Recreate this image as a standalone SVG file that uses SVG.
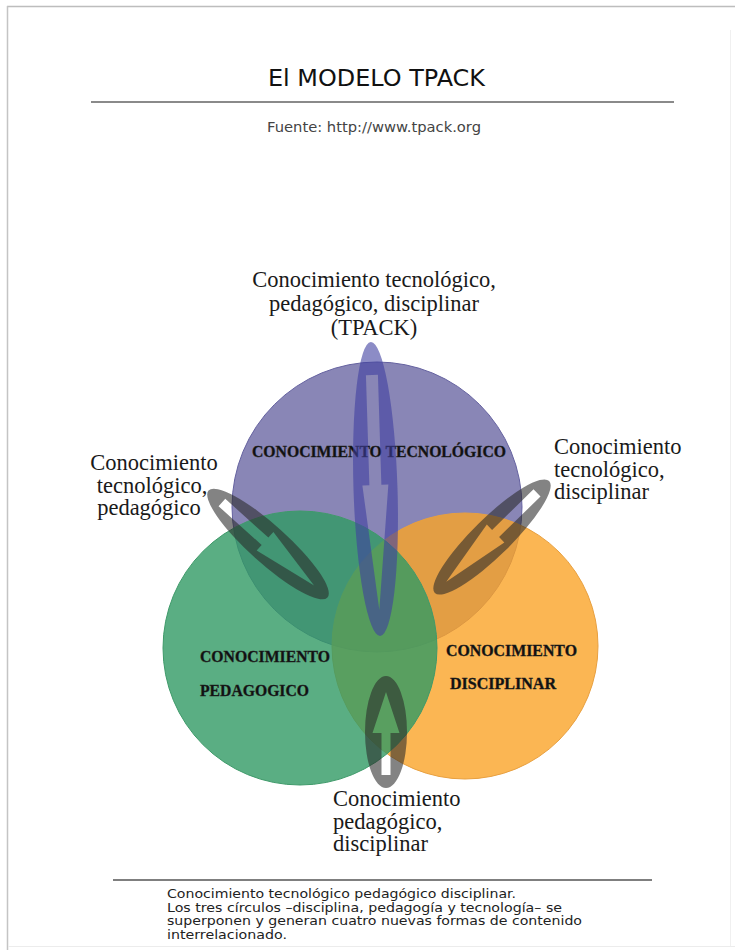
<svg xmlns="http://www.w3.org/2000/svg" width="735" height="950" viewBox="0 0 735 950">
<style>
.sans{font-family:"DejaVu Sans","Liberation Sans",sans-serif}
.serif{font-family:"Liberation Serif","Times New Roman",serif;fill:#1a1a1a}
.lbl{font-size:22.5px}
.cap{font-size:15.7px;font-weight:bold;fill:#111;stroke:#222;stroke-width:0.35}
.gray{fill:#2a2a2a;fill-opacity:0.58;fill-rule:evenodd}
.blue{fill:#4040a0;fill-opacity:0.6;fill-rule:evenodd}
</style>
<rect x="0" y="0" width="735" height="950" fill="#ffffff"/>
<g id="frame" fill="none">
<line x1="7" y1="6.5" x2="735" y2="6.5" stroke="#bdbdbd" stroke-width="1.5"/>
<line x1="7.5" y1="6" x2="7.5" y2="950" stroke="#c4c4c4" stroke-width="1.5"/>
<line x1="8" y1="946.5" x2="735" y2="946.5" stroke="#ececec" stroke-width="1"/>
<line x1="730.5" y1="30" x2="730.5" y2="946" stroke="#f0f0f0" stroke-width="1"/>
</g>
<g id="header">
<text class="sans" x="268" y="86" font-size="23" fill="#111" textLength="217" lengthAdjust="spacingAndGlyphs">El MODELO TPACK</text>
<line x1="91" y1="102" x2="674" y2="102" stroke="#8a8a8a" stroke-width="2"/>
<text class="sans" x="267" y="132" font-size="14.5" fill="#444" textLength="214" lengthAdjust="spacingAndGlyphs">Fuente: http://www.tpack.org</text>
</g>
<g id="circles">
<g id="tecnologico">
<circle cx="377" cy="507" r="145" fill="#6b68a4" fill-opacity="0.8" stroke="#6562a0" stroke-width="1"/>
</g>
<g id="disciplinar">
<circle cx="465" cy="646" r="133" fill="#faa428" fill-opacity="0.8" stroke="#e8a040" stroke-width="1"/>
</g>
<g id="pedagogico">
<circle cx="300" cy="648" r="137" fill="#319a64" fill-opacity="0.8" stroke="#3f9a6a" stroke-width="1"/>
</g>
</g>
<g id="circle-labels">
<text class="serif cap" x="252" y="457" textLength="254" lengthAdjust="spacingAndGlyphs">CONOCIMIENTO TECNOLÓGICO</text>
<text class="serif cap" x="200" y="662" textLength="130" lengthAdjust="spacingAndGlyphs">CONOCIMIENTO</text>
<text class="serif cap" x="200" y="696" textLength="109" lengthAdjust="spacingAndGlyphs">PEDAGOGICO</text>
<text class="serif cap" x="446" y="656" textLength="131" lengthAdjust="spacingAndGlyphs">CONOCIMIENTO</text>
<text class="serif cap" x="450" y="689" textLength="106" lengthAdjust="spacingAndGlyphs">DISCIPLINAR</text>
</g>
<g id="connectors">
<g id="arrow-tpack" transform="translate(375.5,489) rotate(88.2)">
<path class="blue" d="M -147 0 A 147 22 0 1 0 147 0 A 147 22 0 1 0 -147 0 Z M -114 -6 L -4 -6 L -4 -13 L 121 0 L -4 13 L -4 6 L -114 6 Z"/>
</g>
<g id="arrow-tp" transform="translate(268,544) rotate(42)">
<path class="gray" d="M -80 0 A 80 19 0 1 0 80 0 A 80 19 0 1 0 -80 0 Z M -62 -5 L -4 -5 L -4 -12.5 L 62 0 L -4 12.5 L -4 5 L -62 5 Z"/>
</g>
<g id="arrow-td" transform="translate(492,537) rotate(135.6)">
<path class="gray" d="M -80 0 A 80 19 0 1 0 80 0 A 80 19 0 1 0 -80 0 Z M -63 -5 L -5 -5 L -5 -12.5 L 64 0 L -5 12.5 L -5 5 L -63 5 Z"/>
</g>
<g id="arrow-pd" transform="translate(386,732) rotate(-90)">
<path class="gray" d="M -56 0 A 56 21 0 1 0 56 0 A 56 21 0 1 0 -56 0 Z M -43 -4.5 L -1 -4.5 L -1 -13.5 L 40 0 L -1 13.5 L -1 4.5 L -43 4.5 Z"/>
</g>
</g>
<g id="label-tpack" class="serif lbl" text-anchor="middle">
<text x="374" y="287">Conocimiento tecnológico,</text>
<text x="374" y="311">pedagógico, disciplinar</text>
<text x="374" y="335">(TPACK)</text>
</g>
<g id="label-tp" class="serif lbl" text-anchor="middle">
<text x="154" y="470">Conocimiento</text>
<text x="152" y="493">tecnológico,</text>
<text x="149" y="515">pedagógico</text>
</g>
<g id="label-td" class="serif lbl">
<text x="554" y="454">Conocimiento</text>
<text x="554" y="477">tecnológico,</text>
<text x="554" y="499">disciplinar</text>
</g>
<g id="label-pd" class="serif lbl">
<text x="333" y="806">Conocimiento</text>
<text x="333" y="829">pedagógico,</text>
<text x="333" y="851">disciplinar</text>
</g>
<g id="footer">
<line x1="113" y1="880" x2="652" y2="880" stroke="#555" stroke-width="1.5"/>
<g class="sans" font-size="12.5" fill="#222">
<text x="167" y="898" textLength="349" lengthAdjust="spacingAndGlyphs">Conocimiento tecnológico pedagógico disciplinar.</text>
<text x="167" y="911.5" textLength="395" lengthAdjust="spacingAndGlyphs">Los tres círculos –disciplina, pedagogía y tecnología– se</text>
<text x="167" y="925" textLength="415" lengthAdjust="spacingAndGlyphs">superponen y generan cuatro nuevas formas de contenido</text>
<text x="167" y="938.5" textLength="120" lengthAdjust="spacingAndGlyphs">interrelacionado.</text>
</g>
</g>
</svg>
